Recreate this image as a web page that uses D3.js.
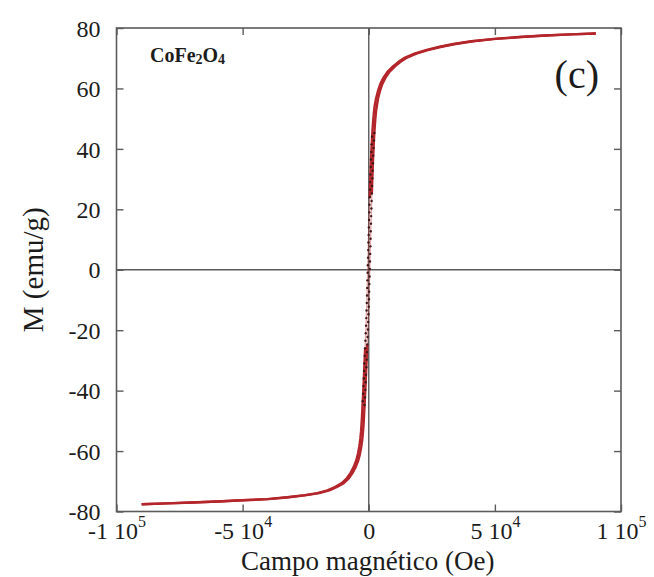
<!DOCTYPE html>
<html>
<head>
<meta charset="utf-8">
<script src="https://cdn.jsdelivr.net/npm/d3@7"></script>
</head>
<body style="margin:0; background:#fff">
<svg id="chart" width="654" height="577" style="display:block"></svg>
<script>
// Hysteresis loop of CoFe2O4: field H (Oe) and magnetisation M (emu/g)

// Branch measured while the field is swept down from +90 kOe
const fieldDown = [90000, 79600, 69600, 59600, 49600, 40600, 33600, 28100, 22600, 18100,
  14400, 11800, 9600, 7400, 5800, 4600, 3600, 2850, 2300, 1980,
  1720, 1510, 1330, 1170, 1030, 900, 780, 670, 570, 470,
  380, 290, 200, 120, 40, -40, -120, -200, -280, -360,
  -440, -520, -600, -680, -770, -860, -960, -1070, -1190, -1310,
  -1440, -1570, -1700, -1830, -1960, -2090, -2230, -2380, -2530, -2680,
  -2850, -3050, -3350, -3750, -4300, -5000, -6000, -7200, -8700, -10700,
  -13400, -16400, -20400, -25400, -32400, -40400, -50400, -60400, -70400, -80400, -90000];
const momentDown = [78.2, 77.9, 77.5, 77.0, 76.4, 75.6, 74.7, 73.8, 72.7, 71.5,
  70.2, 68.8, 67.3, 65.5, 63.5, 61.5, 59.0, 56.5, 54.0, 51.5,
  49.0, 46.5, 44.0, 41.5, 39.0, 36.5, 34.0, 31.5, 29.0, 26.5,
  24.0, 21.5, 19.0, 16.5, 14.0, 11.5, 9.0, 6.5, 4.0, 1.5,
  -1.0, -3.5, -6.0, -8.5, -11.0, -13.5, -16.0, -18.5, -21.0, -23.5,
  -26.0, -28.5, -31.0, -33.5, -36.0, -38.5, -41.0, -43.5, -46.0, -48.5,
  -51.0, -53.5, -56.0, -58.5, -61.0, -63.2, -65.3, -67.2, -69.0, -70.6,
  -71.9, -73.0, -73.9, -74.6, -75.3, -75.9, -76.3, -76.7, -77.0, -77.3, -77.6];

// Branch measured while the field is swept back up from -90 kOe
const fieldUp = [-90000, -79600, -69600, -59600, -49600, -39600, -31600, -24600, -19600, -15600,
  -12600, -9900, -7900, -6400, -5200, -4200, -3500, -2950, -2550, -2400,
  -2150, -1965, -1805, -1655, -1505, -1360, -1225, -1095, -965, -835,
  -705, -575, -450, -330, -215, -110, -15, 75, 160, 240,
  320, 400, 480, 560, 640, 720, 800, 880, 960, 1045,
  1135, 1225, 1320, 1420, 1525, 1640, 1765, 1900, 2050, 2220,
  2415, 2650, 2940, 3650, 4400, 5400, 6600, 8200, 10400, 12600,
  15200, 18900, 23400, 28900, 34400, 41400, 50400, 60400, 70400, 80400, 90000];
const momentUp = [-77.6, -77.3, -77.0, -76.7, -76.3, -75.9, -75.3, -74.6, -73.9, -73.0,
  -71.9, -70.6, -69.0, -67.2, -65.3, -63.2, -61.0, -58.5, -56.0, -54.75,
  -52.25, -49.75, -47.25, -44.75, -42.25, -39.75, -37.25, -34.75, -32.25, -29.75,
  -27.25, -24.75, -22.25, -19.75, -17.25, -14.75, -12.25, -9.75, -7.25, -4.75,
  -2.25, 0.25, 2.75, 5.25, 7.75, 10.25, 12.75, 15.25, 17.75, 20.25,
  22.75, 25.25, 27.75, 30.25, 32.75, 35.25, 37.75, 40.25, 42.75, 45.25,
  47.75, 50.25, 52.75, 56.5, 59.0, 61.5, 63.5, 65.5, 67.3, 68.8,
  70.2, 71.5, 72.7, 73.8, 74.7, 75.6, 76.4, 77.0, 77.5, 77.9, 78.2];

// Axis ticks and their labels
const yTickValues = [-80, -60, -40, -20, 0, 20, 40, 60, 80];
const xTickValues = [-100000, -50000, 0, 50000, 100000];
const xTickMantissa = ["-1 10", "-5 10", "0", "5 10", "1 10"];
const xTickExponent = ["5", "4", "", "4", "5"];

const sampleName = ["CoFe", "2", "O", "4"];
const panelLabel = "(c)";
const xTitle = "Campo magnético (Oe)";
const yTitle = "M (emu/g)";

const serif = '"Liberation Serif"';
const textColor = "#1c1c1c";

const svg = d3.select("#chart").style("font-family", serif);
const plot = { left: 116.5, right: 621, top: 28, bottom: 511.5 };

const x = d3.scaleLinear().domain([-100000, 100000]).range([plot.left, plot.right]);
const y = d3.scaleLinear().domain([-80, 80]).range([plot.bottom, plot.top]);

const frameColor = "#5b5b5b";
const tickLen = 7;

// zero lines
svg.append("line")
  .attr("x1", plot.left).attr("x2", plot.right)
  .attr("y1", y(0)).attr("y2", y(0))
  .attr("stroke", frameColor).attr("stroke-width", 1.4);
svg.append("line")
  .attr("x1", x(0)).attr("x2", x(0))
  .attr("y1", plot.top).attr("y2", plot.bottom)
  .attr("stroke", frameColor).attr("stroke-width", 1.4);

// measured curve
const branches = [
  fieldDown.map((h, i) => ({ h, m: momentDown[i] })),
  fieldUp.map((h, i) => ({ h, m: momentUp[i] }))
];
const curveColor = "#b4262b";
const lineAll = d3.line().x(d => x(d.h)).y(d => y(d.m));
const lineOuter = d3.line().defined(d => Math.abs(d.m) >= 24).x(d => x(d.h)).y(d => y(d.m));

const curves = svg.append("g");
branches.forEach(b => {
  curves.append("path").attr("d", lineAll(b))
    .attr("fill", "none").attr("stroke", curveColor)
    .attr("stroke-width", 1.4).attr("stroke-opacity", 0.4);
  curves.append("path").attr("d", lineOuter(b))
    .attr("fill", "none").attr("stroke", curveColor)
    .attr("stroke-width", 2.4).attr("stroke-linejoin", "round");
});
branches.forEach(b => {
  curves.selectAll(null)
    .data(b.filter(d => Math.abs(d.m) < 46))
    .enter().append("circle")
    .attr("cx", d => x(d.h)).attr("cy", d => y(d.m))
    .attr("r", 1.2).attr("fill", "#3e1718");
});

// frame
svg.append("rect")
  .attr("x", plot.left).attr("y", plot.top)
  .attr("width", plot.right - plot.left).attr("height", plot.bottom - plot.top)
  .attr("fill", "none").attr("stroke", frameColor).attr("stroke-width", 1.6);

function styleAxis(g) {
  g.style("font-family", serif);
  g.select(".domain").remove();
  g.selectAll(".tick line").attr("stroke", frameColor).attr("stroke-width", 1.4);
}

// left axis with labels, ticks pointing inward
svg.append("g")
  .attr("transform", `translate(${plot.left},0)`)
  .call(d3.axisLeft(y).tickValues(yTickValues).tickSize(-tickLen).tickPadding(16)
    .tickFormat(d => String(d)))
  .call(styleAxis)
  .call(g => g.selectAll("text")
    .style("font-family", serif)
    .attr("font-size", 24).attr("fill", textColor).attr("dy", "0.34em"));

// right axis, ticks only
svg.append("g")
  .attr("transform", `translate(${plot.right},0)`)
  .call(d3.axisRight(y).tickValues(yTickValues).tickSize(-tickLen).tickFormat(""))
  .call(styleAxis);

// top axis, ticks only
svg.append("g")
  .attr("transform", `translate(0,${plot.top})`)
  .call(d3.axisTop(x).tickValues(xTickValues).tickSize(-tickLen).tickFormat(""))
  .call(styleAxis);

// bottom axis with "a 10^n" labels
svg.append("g")
  .attr("transform", `translate(0,${plot.bottom})`)
  .call(d3.axisBottom(x).tickValues(xTickValues).tickSize(-tickLen).tickPadding(6).tickFormat(""))
  .call(styleAxis)
  .call(g => g.selectAll(".tick text")
    .style("font-family", serif)
    .attr("font-size", 24).attr("fill", textColor).attr("dy", "0.9em")
    .each(function(d, i) {
      const t = d3.select(this);
      t.append("tspan").text(xTickMantissa[i]);
      if (xTickExponent[i]) {
        t.append("tspan").attr("font-size", 16).attr("dy", "-0.75em").text(xTickExponent[i]);
      }
    }));

// axis titles
svg.append("text")
  .style("font-family", serif)
  .attr("x", (plot.left + plot.right) / 2 - 1).attr("y", 570)
  .attr("text-anchor", "middle").attr("font-size", 27).attr("fill", textColor)
  .text(xTitle);
svg.append("text")
  .style("font-family", serif)
  .attr("transform", `translate(43,${y(0)}) rotate(-90)`)
  .attr("text-anchor", "middle").attr("font-size", 29).attr("fill", textColor)
  .text(yTitle);

// sample name with subscripts
const name = svg.append("text")
  .style("font-family", serif)
  .attr("x", 150).attr("y", 62).attr("fill", textColor)
  .attr("font-size", 20).attr("font-weight", "bold");
name.append("tspan").text(sampleName[0]);
name.append("tspan").attr("font-size", 14).attr("dy", 2).text(sampleName[1]);
name.append("tspan").attr("dy", -2).text(sampleName[2]);
name.append("tspan").attr("font-size", 14).attr("dy", 2).text(sampleName[3]);

// panel label
svg.append("text")
  .style("font-family", serif)
  .attr("x", 599).attr("y", 88).attr("fill", textColor)
  .attr("text-anchor", "end").attr("font-size", 40)
  .text(panelLabel);
</script>
</body>
</html>
